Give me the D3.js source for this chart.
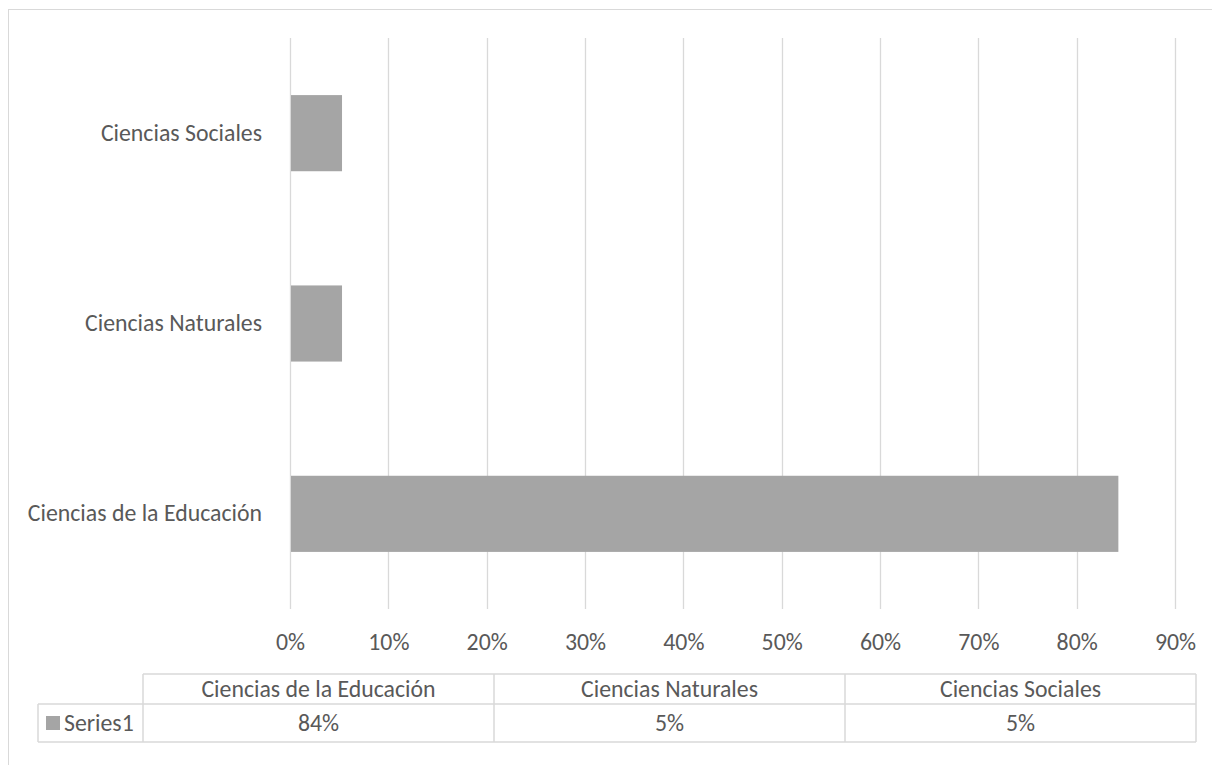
<!DOCTYPE html>
<html>
<head>
<meta charset="utf-8">
<script src="https://cdn.jsdelivr.net/npm/d3@7"></script>
<style>
  html, body { margin: 0; padding: 0; background: #fff; }
  svg { display: block; }
  text { font-family: Calibri, Carlito, "Open Sans", sans-serif; fill: #595959; }
</style>
</head>
<body>
<svg id="chart" width="1212" height="765"></svg>
<script>
const categories = ["Ciencias de la Educación", "Ciencias Naturales", "Ciencias Sociales"];
const values = [0.8424, 0.0529, 0.0529];
const valueLabels = ["84%", "5%", "5%"];
const seriesName = "Series1";
const ticks = [0, 0.1, 0.2, 0.3, 0.4, 0.5, 0.6, 0.7, 0.8, 0.9];

const svg = d3.select("#chart");
const fontSize = 23.8;
const gridColor = "#d9d9d9";
const barColor = "#a5a5a5";
const ff = 'Calibri, Carlito, "Open Sans", sans-serif';

// chart border
svg.append("rect").attr("x", 8.5).attr("y", 9.5).attr("width", 1300).attr("height", 900)
  .attr("fill", "none").attr("stroke", gridColor).attr("stroke-width", 1);

const plot = { left: 290, right: 1175, top: 38, bottom: 609 };
const x = d3.scaleLinear().domain([0, 0.9]).range([plot.left, plot.right]);
const y = d3.scaleBand().domain(categories.slice().reverse()).range([plot.top, plot.bottom]).paddingInner(0.6).paddingOuter(0.3);

// gridlines
svg.append("g").selectAll("line").data(ticks).join("line")
  .attr("x1", d => Math.round(x(d)) + 0.5).attr("x2", d => Math.round(x(d)) + 0.5)
  .attr("y1", plot.top).attr("y2", plot.bottom)
  .attr("stroke", gridColor).attr("stroke-width", 1.3);

// bars
svg.append("g").selectAll("rect").data(categories).join("rect")
  .attr("x", x(0) + 1)
  .attr("y", d => y(d))
  .attr("width", (d, i) => x(values[i]) - x(0) - 1)
  .attr("height", y.bandwidth())
  .attr("fill", barColor);

// x-axis tick labels
const xAxis = d3.axisBottom(x).tickValues(ticks).tickFormat(d3.format(".0%")).tickSize(0).tickPadding(0);
const gx = svg.append("g").attr("transform", `translate(0, 642)`).call(xAxis);
gx.select(".domain").remove();
gx.selectAll("text").attr("font-size", fontSize).attr("dy", "0.35em").attr("y", 0)
  .style("font-family", ff).attr("fill", "#595959");

// y-axis category labels
const yAxis = d3.axisLeft(y).tickSize(0).tickPadding(0);
const gy = svg.append("g").attr("transform", `translate(262, 0)`).call(yAxis);
gy.select(".domain").remove();
gy.selectAll("text").attr("font-size", fontSize)
  .style("font-family", ff).attr("fill", "#595959");

// data table
const colScale = d3.scaleBand().domain(categories).range([143, 1196]);
const rowTop = 674, rowMid = 704, rowBot = 742, legendLeft = 38;
const tg = svg.append("g").attr("stroke", gridColor).attr("stroke-width", 1.5).attr("fill", "none");
tg.append("line").attr("x1", 143).attr("x2", 1196).attr("y1", rowTop).attr("y2", rowTop);
tg.append("line").attr("x1", legendLeft).attr("x2", 1196).attr("y1", rowMid).attr("y2", rowMid);
tg.append("line").attr("x1", legendLeft).attr("x2", 1196).attr("y1", rowBot).attr("y2", rowBot);
tg.append("line").attr("x1", legendLeft).attr("x2", legendLeft).attr("y1", rowMid).attr("y2", rowBot);
tg.selectAll("line.v").data(categories).join("line").attr("class", "v")
  .attr("x1", d => colScale(d)).attr("x2", d => colScale(d)).attr("y1", rowTop).attr("y2", rowBot);
tg.append("line").attr("x1", 1196).attr("x2", 1196).attr("y1", rowTop).attr("y2", rowBot);

svg.append("g").selectAll("text").data(categories).join("text")
  .attr("x", d => colScale(d) + colScale.bandwidth() / 2).attr("y", (rowTop + rowMid) / 2)
  .attr("text-anchor", "middle").attr("dy", "0.35em").attr("font-size", fontSize)
  .text(d => d);
svg.append("g").selectAll("text").data(categories).join("text")
  .attr("x", d => colScale(d) + colScale.bandwidth() / 2).attr("y", (rowMid + rowBot) / 2)
  .attr("text-anchor", "middle").attr("dy", "0.35em").attr("font-size", fontSize)
  .text((d, i) => valueLabels[i]);

// legend key in table
svg.append("rect").attr("x", 46).attr("y", 716).attr("width", 14).attr("height", 14).attr("fill", barColor);
svg.append("text").attr("x", 64).attr("y", (rowMid + rowBot) / 2).attr("dy", "0.35em")
  .attr("font-size", fontSize).text(seriesName);
</script>
</body>
</html>
